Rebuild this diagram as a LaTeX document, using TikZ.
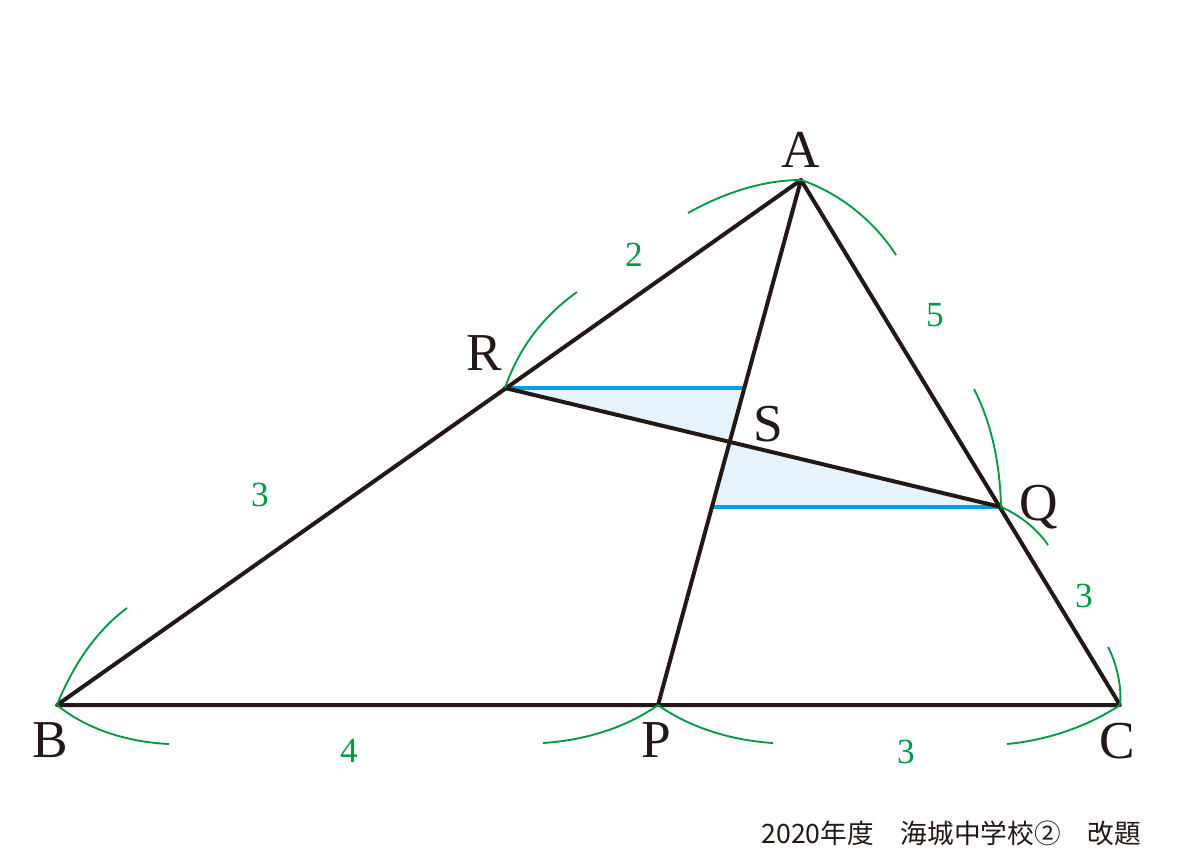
\documentclass[tikz,border=0pt]{standalone}
\usepackage{fontspec}
\setmainfont{Liberation Serif}
\newfontfamily\cjkfont{Noto Sans CJK JP}
\definecolor{inkblack}{RGB}{35,24,21}
\definecolor{arcgreen}{RGB}{0,153,68}
\definecolor{lineblue}{RGB}{0,160,233}
\definecolor{fillblue}{RGB}{230,243,252}
\begin{document}
\begin{tikzpicture}[x=0.75pt,y=-0.75pt,
  edge/.style={draw=inkblack,line width=3pt,line join=round,line cap=round},
  blueline/.style={draw=lineblue,line width=3pt},
  arcmark/.style={draw=arcgreen,line width=1.4pt},
  vlabel/.style={inner sep=0pt,anchor=base,text=inkblack,font=\fontsize{40}{40}\selectfont},
  numlabel/.style={inner sep=0pt,anchor=base,text=arcgreen,font=\fontsize{26.5}{26.5}\selectfont}]
\useasboundingbox (0,0) rectangle (1200,857);
\coordinate (A) at (801,180);
\coordinate (B) at (57,705);
\coordinate (C) at (1120,705);
\coordinate (P) at (658,705);
\coordinate (R) at (505,388);
\coordinate (Q) at (1001,507);
\coordinate (S) at (intersection of A--P and R--Q);
\coordinate (R1) at (744.3,388);
\coordinate (Q1) at (711.9,507);
% shaded triangles
\fill[fillblue] (R) -- (R1) -- (S) -- cycle;
\fill[fillblue] (Q) -- (Q1) -- (S) -- cycle;
\draw[blueline] (R) -- (R1);
\draw[blueline] (Q) -- (Q1);
% main lines
\draw[edge] (A) -- (B) -- (C) -- cycle;
\draw[edge] (A) -- (P);
\draw[edge] (R) -- (Q);
% green arcs
\draw[arcmark] (A) .. controls (760,180) and (720,195) .. (688,213);
\draw[arcmark] (A) .. controls (840,193) and (875,222) .. (896,255);
\draw[arcmark] (R) .. controls (520,345) and (545,315) .. (577,292);
\draw[arcmark] (Q) .. controls (1000,460) and (990,420) .. (974,389);
\draw[arcmark] (Q) .. controls (1020,515) and (1038,530) .. (1048,545);
\draw[arcmark] (C) .. controls (1122,685) and (1116,662) .. (1108,647);
\draw[arcmark] (C) .. controls (1090,725) and (1050,740) .. (1007,744);
\draw[arcmark] (P) .. controls (630,725) and (590,740) .. (543,743);
\draw[arcmark] (P) .. controls (686,725) and (726,740) .. (773,743);
\draw[arcmark] (B) .. controls (75,660) and (100,628) .. (127,608);
\draw[arcmark] (B) .. controls (85,728) and (125,742) .. (169,744);
% vertex labels
\node[vlabel] (lA) at (801,167) {A};
\node[vlabel] (lR) at (484,370) {R};
\node[vlabel] (lS) at (768,441) {S};
\node[vlabel] (lQ) at (1039,520) {Q};
\node[vlabel] (lB) at (50,757) {B};
\node[vlabel] (lP) at (656,757) {P};
\node[vlabel] (lC) at (1117,758) {C};
% length labels
\node[numlabel] (n2) at (634,266) {2};
\node[numlabel] (n5) at (935,326) {5};
\node[numlabel] (n3a) at (260,506) {3};
\node[numlabel] (n3b) at (1084,607) {3};
\node[numlabel] (n4) at (349,762) {4};
\node[numlabel] (n3c) at (906,763) {3};
% source
\node[inner sep=0pt,anchor=base east,text=inkblack,font=\cjkfont\fontsize{20}{20}\selectfont] (src) at (1141,843) {2020年度　海城中学校②　改題};
\end{tikzpicture}
\end{document}
